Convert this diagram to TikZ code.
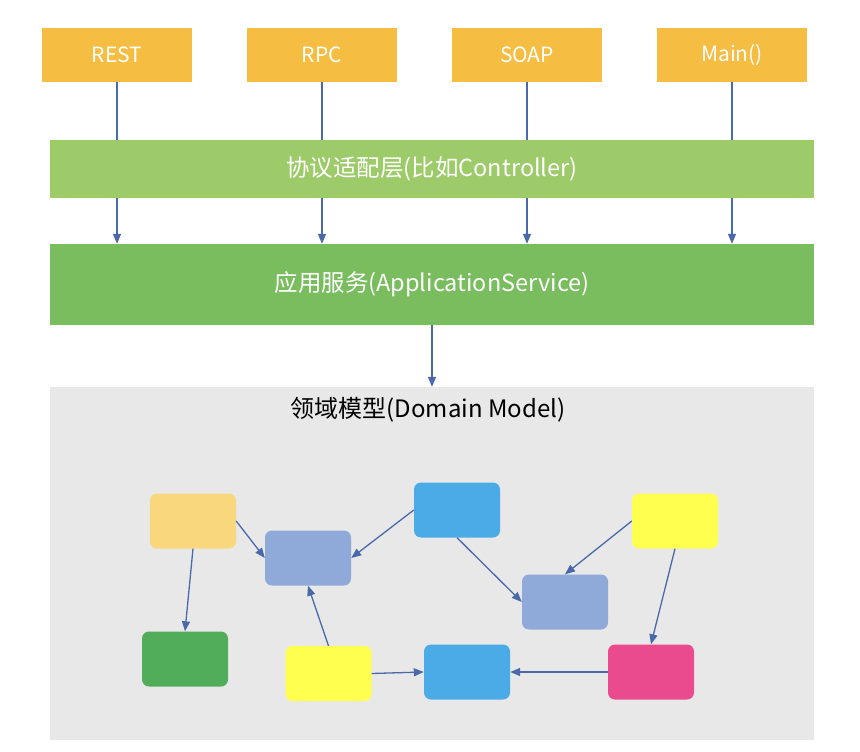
\documentclass[tikz,border=0pt]{standalone}
\usepackage{fontspec}
\newfontfamily\cjkfont{Noto Sans CJK SC}
\usetikzlibrary{arrows.meta}

\definecolor{topcol}{HTML}{F5BD42}
\definecolor{adaptcol}{HTML}{9DCB69}
\definecolor{appcol}{HTML}{79BD5F}
\definecolor{domcol}{HTML}{E8E8E9}
\definecolor{linkcol}{HTML}{4A69AA}
\definecolor{dorange}{HTML}{F9D77D}
\definecolor{dpurple}{HTML}{8FA9D8}
\definecolor{dblue}{HTML}{4AABE6}
\definecolor{dgreen}{HTML}{52AD5B}
\definecolor{dyellow}{HTML}{FFFF4F}
\definecolor{dpink}{HTML}{EA4A8E}

\begin{document}
\begin{tikzpicture}[x=1pt,y=-1pt]
\tikzset{
  topbox/.style={fill=topcol,minimum width=150pt,minimum height=54pt,inner sep=0pt,text=white,font=\cjkfont\fontsize{21}{24}\selectfont},
  layerbox/.style={fill=#1,minimum width=764pt,inner sep=0pt,text=white,font=\cjkfont\fontsize{23.5}{26}\selectfont},
  dombox/.style={fill=#1,rounded corners=7pt,minimum width=86pt,minimum height=55pt,inner sep=0pt},
  flow/.style={-{Triangle[length=10pt,width=8pt]},line width=1.3pt,draw=linkcol},
  plain/.style={line width=1.3pt,draw=linkcol}
}
\useasboundingbox (0,0) rectangle (860,752);
\node[topbox] (n_rest) at (117,55) {REST};
\node[topbox] (n_rpc) at (322,55) {RPC};
\node[topbox] (n_soap) at (527,55) {SOAP};
\node[topbox] (n_main) at (732,55) {Main()};
\node[layerbox=adaptcol,minimum height=58pt] (n_adapt) at (432,169) {协议适配层(比如Controller)};
\node[layerbox=appcol,minimum height=81pt] (n_app) at (432,284.5) {应用服务(ApplicationService)};
\node[fill=domcol,minimum width=764pt,minimum height=353pt,inner sep=0pt] (n_domain) at (432,563.5) {};
\node[font=\cjkfont\fontsize{24}{27}\selectfont] (n_title) at (428,410) {领域模型(Domain Model)};
\node[dombox=dorange] (d_orange) at (193,521) {};
\node[dombox=dpurple] (d_purple1) at (308,558) {};
\node[dombox=dblue] (d_blue1) at (457,510) {};
\node[dombox=dgreen] (d_green) at (185,659) {};
\node[dombox=dyellow] (d_yellow1) at (328.5,673.5) {};
\node[dombox=dblue] (d_blue2) at (467,672) {};
\node[dombox=dpurple] (d_purple2) at (565,602) {};
\node[dombox=dyellow] (d_yellow2) at (675,521) {};
\node[dombox=dpink] (d_pink) at (651,672) {};
\draw[plain] (n_rest) -- (n_rest |- n_adapt.north);
\draw[plain] (n_rpc) -- (n_rpc |- n_adapt.north);
\draw[plain] (n_soap) -- (n_soap |- n_adapt.north);
\draw[plain] (n_main) -- (n_main |- n_adapt.north);
\draw[flow] (n_rest |- n_adapt.south) -- (n_rest |- n_app.north);
\draw[flow] (n_rpc |- n_adapt.south) -- (n_rpc |- n_app.north);
\draw[flow] (n_soap |- n_adapt.south) -- (n_soap |- n_app.north);
\draw[flow] (n_main |- n_adapt.south) -- (n_main |- n_app.north);
\draw[flow] (n_app) -- (n_domain);
\draw[flow] (d_orange.east) -- (d_purple1.west);
\draw[flow] (d_orange.south) -- (d_green.north);
\draw[flow] (d_blue1.west) -- (d_purple1.east);
\draw[flow] (d_blue1.south) -- (d_purple2.west);
\draw[flow] (d_yellow1.north) -- (d_purple1.south);
\draw[flow] (d_yellow1.east) -- (d_blue2.west);
\draw[flow] (d_yellow2.west) -- (d_purple2.north);
\draw[flow] (d_yellow2.south) -- (d_pink.north);
\draw[flow] (d_pink.west) -- (d_blue2.east);
\end{tikzpicture}
\end{document}
